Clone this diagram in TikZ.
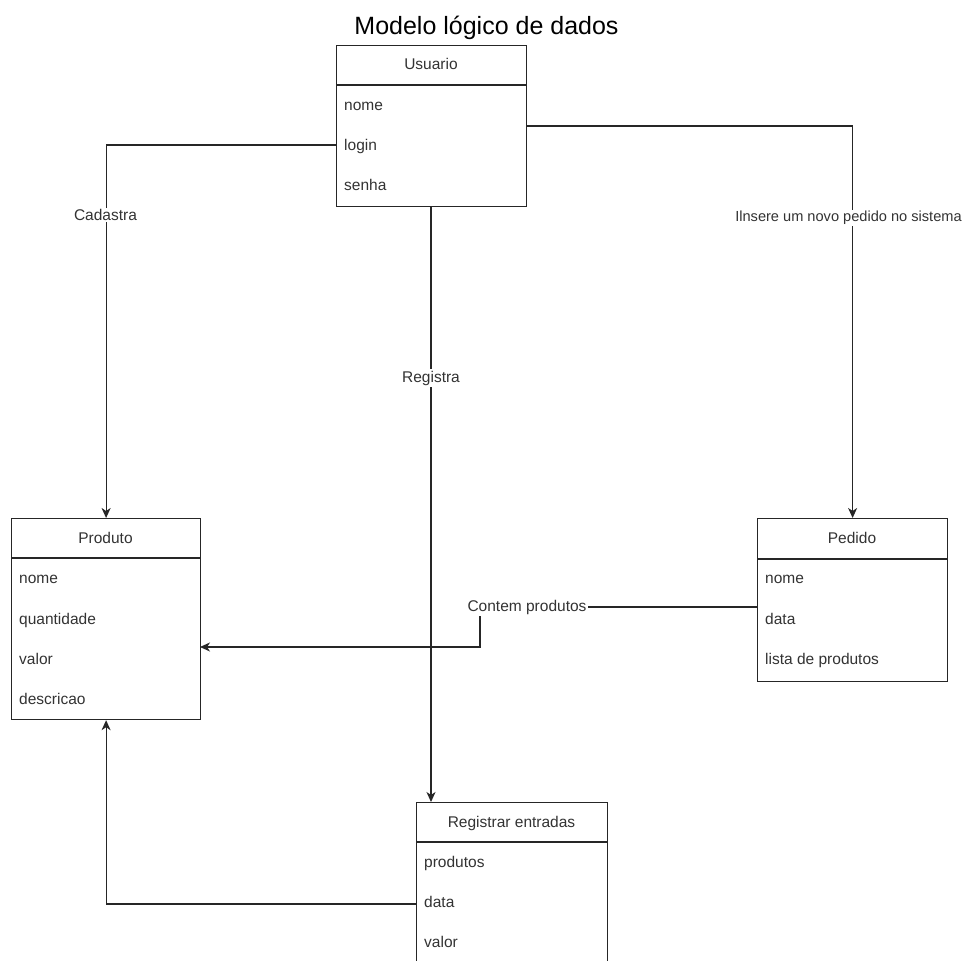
\documentclass[tikz,border=0pt]{standalone}
\usepackage{fontspec}
\setmainfont{Liberation Sans}
\usetikzlibrary{arrows.meta}
\begin{document}
\begin{tikzpicture}[x=1pt,y=-1pt,
  ink/.style={draw=black!85, line width=1.2pt},
  entity/.style={ink, fill=white, anchor=north west, inner sep=0pt, minimum width=190pt},
  header/.style={anchor=base, inner sep=0pt, text=black!80, font=\fontsize{15.5}{18}\selectfont},
  field/.style={anchor=base west, inner sep=0pt, text=black!80, font=\fontsize{15.5}{18}\selectfont},
  link/.style={ink, -{Stealth[length=10pt, width=9pt, inset=3pt]}},
  tag/.style={fill=white, inner sep=1.5pt, text=black!80, font=\fontsize{15.5}{18}\selectfont}]
\useasboundingbox (0,0) rectangle (968,960);
\fill[white] (0,0) rectangle (968,960);
\clip (0,0) rectangle (968,960);

% title
\node[anchor=base, inner sep=0pt, font=\fontsize{25}{30}\selectfont] (title) at (486.5,35) {Modelo lógico de dados};

% Usuario
\node[entity, minimum height=161pt] (usuario) at (336,45) {};
\draw[ink] (336,85) -- (526,85);
\node[header] (usuarioh) at (431,70) {Usuario};
\node[field] (unome)  at (344,110.5) {nome};
\node[field] (ulogin) at (344,150.5) {login};
\node[field] (usenha) at (344,190.5) {senha};

% Produto
\node[entity, minimum height=201pt, minimum width=189pt] (produto) at (11,518) {};
\draw[ink] (11,558) -- (200,558);
\node[header] (produtoh) at (105.5,543.5) {Produto};
\node[field] (pnome)  at (19,583.5) {nome};
\node[field] (pquant) at (19,624) {quantidade};
\node[field] (pvalor) at (19,664) {valor};
\node[field] (pdesc)  at (19,704.5) {descricao};

% Pedido
\node[entity, minimum height=163pt] (pedido) at (757,518) {};
\draw[ink] (757,559) -- (947,559);
\node[header] (pedidoh) at (852,543.5) {Pedido};
\node[field] (dnome)  at (765,583.5) {nome};
\node[field] (ddata)  at (765,624) {data};
\node[field] (dlista) at (765,664) {lista de produtos};

% Registrar entradas
\node[entity, minimum height=161pt, minimum width=191pt] (registrar) at (416,802) {};
\draw[ink] (416,842) -- (607,842);
\node[header] (registrarh) at (511.5,827.5) {Registrar entradas};
\node[field] (rprod)  at (424,867.5) {produtos};
\node[field] (rdata)  at (424,907.5) {data};
\node[field] (rvalor) at (424,947.5) {valor};

% connectors
\coordinate (ulink) at (336,145);
\draw[link] (ulink) -| (produto.north);
\node[tag] (cadastra) at (105.5,215) {Cadastra};

\draw[link] (usuario.east) -| (pedido.north);
\node[tag, font=\fontsize{14.6}{17}\selectfont] (insere) at (848.5,218) {Ilnsere um novo pedido no sistema};

\coordinate (ubottom) at (431,206);
\draw[link] (ubottom) -- (ubottom |- registrar.north);
\node[tag] (registra) at (431,378) {Registra};

\coordinate (pedidoin) at (757,607);
\coordinate (bendA) at (480,607);
\coordinate (bendB) at (480,647);
\coordinate (produtoin) at (200,647);
\draw[link] (pedidoin) -- (bendA) -- (bendB) -- (produtoin);
\node[tag] (contem) at (527,607) {Contem produtos};

\coordinate (rlink) at (416,904);
\draw[link] (rlink) -| (produto.south);
\end{tikzpicture}
\end{document}
